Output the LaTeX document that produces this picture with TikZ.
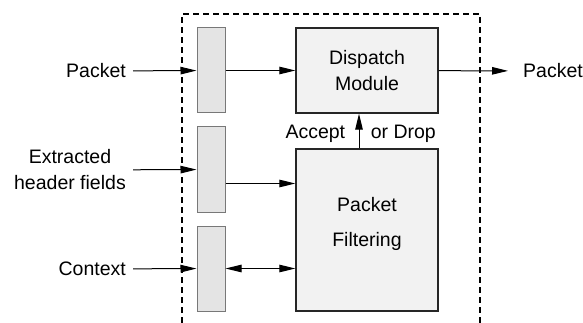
\documentclass[tikz,border=0pt]{standalone}
\usepackage{fontspec}
\setmainfont{Liberation Sans}
\usepackage{xcolor}
\usepackage{tikz}
\usetikzlibrary{arrows.meta, positioning, calc}
\definecolor{boxgray}{RGB}{242,242,242}
\definecolor{bufgray}{RGB}{228,228,228}
\definecolor{bufedge}{RGB}{120,120,120}

\begin{document}
\begin{tikzpicture}[
    x=1pt, y=-1pt,
    font=\fontsize{19.5}{26}\selectfont,
    module/.style={rectangle, draw=black!85, line width=1.3pt, fill=boxgray, minimum width=142pt, align=center, inner sep=0pt},
    buffer/.style={rectangle, draw=bufedge, line width=1pt, fill=bufgray, minimum width=28pt, minimum height=85pt, inner sep=0pt},
    lbl/.style={inner xsep=7pt, inner ysep=0pt, align=center},
    arrow/.style={-{Triangle[length=16pt,width=7.5pt]}, line width=1pt},
    twoway/.style={{Triangle[length=16pt,width=7.5pt]}-{Triangle[length=16pt,width=7.5pt]}, line width=1pt},
    frame/.style={dash pattern=on 6pt off 4pt, line width=1.5pt},
]
\useasboundingbox (0,0) rectangle (583,323);

% Boundary of the unit
\draw[frame] (182,323) -- (182,14) -- (480,14) -- (480,323);

% Input buffers
\node[buffer] (bufpkt) at (211,70.5) {};
\node[buffer] (bufhdr) at (211,169.5) {};
\node[buffer] (bufctx) at (211,268.5) {};

% Modules
\node[module, minimum height=85pt] (dispatch) at (367,70.5) {Dispatch\\Module};
\node[module, minimum height=162pt] (filter) at (367,230) {Packet\\[9pt]Filtering\\[-9pt]};

% Inputs and output
\node[lbl, anchor=east] (pktin) at (133,71) {Packet};
\node[lbl, anchor=east] (hdrin) at (133,170) {Extracted\\header fields};
\node[lbl, anchor=east] (ctxin) at (133,269) {Context};
\node[lbl, anchor=west, inner xsep=15pt] (pktout) at (508,71) {Packet};

% Arrows into the buffers
\draw[arrow] (pktin) -- (bufpkt);
\draw[arrow] (hdrin) -- (bufhdr);
\draw[arrow] (ctxin) -- (bufctx);

% Buffers to modules
\draw[arrow] (bufpkt) -- (dispatch);
\coordinate (hdrout) at ([yshift=-14pt]bufhdr.east);
\draw[arrow] (hdrout) -- (hdrout -| filter.west);
\draw[twoway] (bufctx.east) -- (bufctx.east -| filter.west);

% Verdict and output
\coordinate (verdict) at ([xshift=-8pt]filter.north);
\draw[arrow] (verdict) -- (verdict |- dispatch.south)
    node[midway, left=10pt, yshift=-3pt] {Accept}
    node[midway, right=8pt, yshift=-3pt] {or Drop};
\draw[arrow] (dispatch) -- (pktout);

\end{tikzpicture}
\end{document}
